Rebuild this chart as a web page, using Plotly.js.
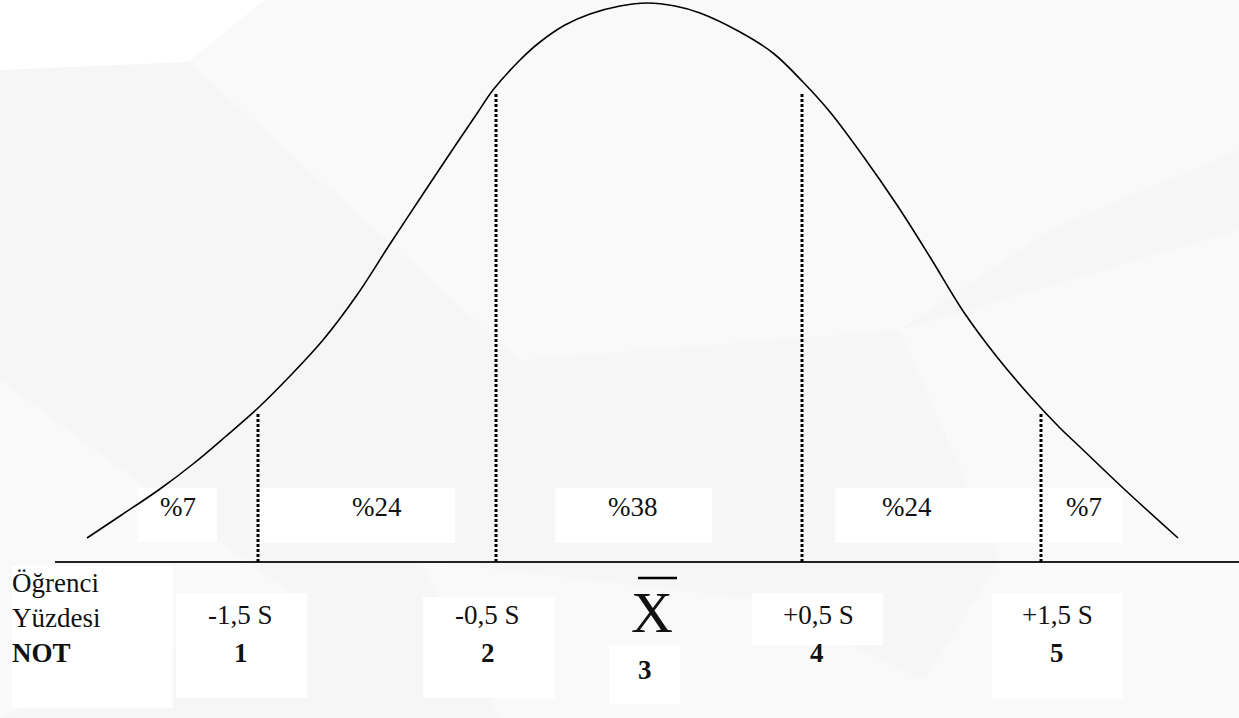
<!DOCTYPE html>
<html>
<head>
<meta charset="utf-8">
<script src="https://cdn.plot.ly/plotly-3.0.1.min.js"></script>
<style>
  html, body { margin: 0; padding: 0; background: #f6f6f7; }
  #plot { width: 1239px; height: 718px; }
</style>
</head>
<body>
<div id="plot"></div>
<script>
// curve: x across the page, height above the baseline
const curveX = [87, 120, 160, 193, 225, 258, 290, 323, 357, 390, 423, 457, 478, 493, 520, 540, 565, 590, 620, 647,
                675, 700, 740, 773, 803, 830, 863, 897, 930, 963, 997, 1030, 1060, 1080, 1123, 1178];
const curveY = [24, 46, 73, 98, 125, 154, 186, 222, 267, 318, 368, 419, 450, 472, 502, 520, 537, 548, 556, 559,
                556, 549, 530, 509, 480, 450, 406, 357, 305, 251, 205, 166, 134, 115, 74, 24];

// cut lines (dotted) and how high they reach
const cutX = [258, 496, 802, 1041];
const cutTop = [149, 470, 470, 149];

// section shares
const shareLabels = ['%7', '%24', '%38', '%24', '%7'];
const shareX = [178, 377, 633, 907, 1084];

// limits under the baseline
const limitLabels = ['-1,5 S', '-0,5 S', '+0,5 S', '+1,5 S'];
const limitX = [240, 487, 818, 1057];
const gradeLabels = ['1', '2', '3', '4', '5'];
const gradeX = [241, 488, 645, 817, 1057];
const rowLabels = ['Öğrenci', 'Yüzdesi', '<b>NOT</b>'];

const serif = 'Times New Roman, Liberation Serif, serif';
const baseY = 562;               // baseline position in page pixels
const toY = py => baseY - py;     // page pixel row -> height above baseline

const traces = [];

traces.push({
    x: [55, 1239], y: [0, 0],
    mode: 'lines', line: { color: '#222', width: 2 },
    hoverinfo: 'skip'
});

cutX.forEach((cx, i) => {
    traces.push({
        x: [cx, cx], y: [0, cutTop[i]],
        mode: 'lines', line: { color: '#000', width: 3, dash: '3px,2px' },
        hoverinfo: 'skip'
    });
});

traces.push({
    x: curveX, y: curveY,
    mode: 'lines', line: { color: '#000', width: 1.6, shape: 'spline', smoothing: 1 },
    hoverinfo: 'skip'
});

// white label boxes and faint background facets
function box(x0, x1, y0, y1) {
    return { type: 'rect', layer: 'below', xref: 'x', yref: 'y',
             x0: x0, x1: x1, y0: toY(y0), y1: toY(y1),
             fillcolor: '#ffffff', line: { width: 0 } };
}
function facet(path, color) {
    return { type: 'path', layer: 'below', xref: 'x', yref: 'y', path: path,
             fillcolor: color, line: { width: 0 } };
}
function p(pts) {
    return 'M ' + pts.map(q => q[0] + ',' + toY(q[1])).join(' L ') + ' Z';
}

const shapes = [
    facet(p([[0, 0], [265, 0], [188, 62], [0, 70]]), '#ffffff'),
    facet(p([[188, 62], [265, 0], [640, 0], [900, 330], [520, 360]]), '#f9f9fa'),
    facet(p([[640, 0], [1239, 0], [1239, 150], [1050, 230], [900, 330]]), '#f9f9f9'),
    facet(p([[900, 330], [1239, 230], [1239, 718], [900, 718], [1000, 560]]), '#f9f9f9'),
    facet(p([[0, 380], [300, 600], [0, 718]]), '#f9f9fa'),
    facet(p([[420, 560], [760, 600], [1000, 718], [500, 718]]), '#f9f9fa'),
    box(138, 217, 488, 542),
    box(260, 455, 488, 543),
    box(555, 712, 488, 543),
    box(835, 1040, 488, 543),
    box(1043, 1123, 488, 543),
    box(12, 173, 566, 708),
    box(176, 307, 593, 698),
    box(423, 555, 597, 698),
    box(609, 680, 645, 704),
    box(752, 883, 593, 645),
    box(992, 1123, 593, 698),
    // bar over the mean sign
    { type: 'line', xref: 'x', yref: 'y', x0: 638, x1: 677, y0: toY(578), y1: toY(578),
      line: { color: '#000', width: 2.5 } }
];

const annotations = [];
shareLabels.forEach((t, i) => {
    annotations.push({ x: shareX[i], y: toY(507), text: t, showarrow: false,
                       font: { family: serif, size: 27, color: '#111' } });
});
limitLabels.forEach((t, i) => {
    annotations.push({ x: limitX[i], y: toY(615), text: t, showarrow: false,
                       font: { family: serif, size: 27, color: '#111' } });
});
gradeLabels.forEach((t, i) => {
    const gy = t === '3' ? 670 : 653;
    annotations.push({ x: gradeX[i], y: toY(gy), text: '<b>' + t + '</b>', showarrow: false,
                       font: { family: serif, size: 27, color: '#111' } });
});
rowLabels.forEach((t, i) => {
    annotations.push({ x: 10, y: toY(583 + i * 35), text: t, showarrow: false, xanchor: 'left',
                       font: { family: serif, size: 27, color: '#111' } });
});
annotations.push({ x: 652, y: toY(612), text: 'X', showarrow: false,
                   font: { family: serif, size: 58, color: '#111' } });

const layout = {
    width: 1239,
    height: 718,
    margin: { l: 0, r: 0, t: 0, b: 0 },
    paper_bgcolor: '#f6f6f7',
    plot_bgcolor: 'rgba(0,0,0,0)',
    showlegend: false,
    xaxis: { range: [0, 1239], visible: false, fixedrange: true },
    yaxis: { range: [baseY - 718, baseY], visible: false, fixedrange: true },
    shapes: shapes,
    annotations: annotations
};

Plotly.newPlot('plot', traces, layout, { displayModeBar: false, staticPlot: true });
</script>
</body>
</html>
